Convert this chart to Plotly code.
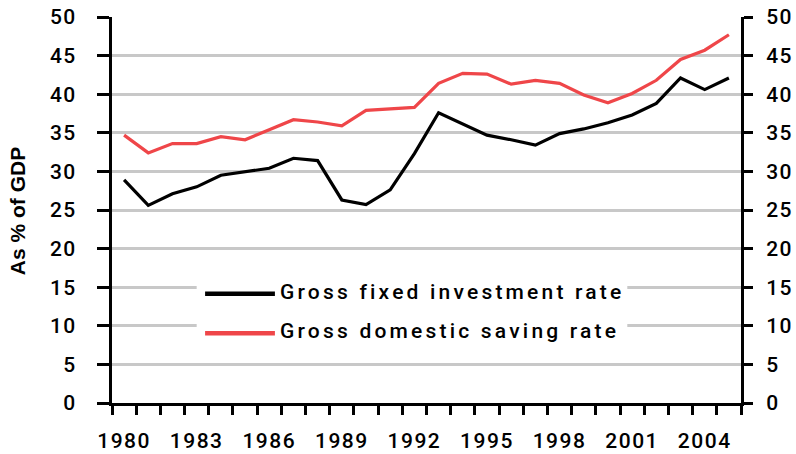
import plotly.graph_objects as go

years = list(range(1980, 2006))
investment = [28.9, 25.6, 27.1, 28.0, 29.5, 30.0, 30.4, 31.7, 31.4, 26.3, 25.7, 27.6, 32.3,
              37.6, 36.1, 34.7, 34.1, 33.4, 34.9, 35.5, 36.3, 37.3, 38.8, 42.1, 40.6, 42.1]
saving = [34.7, 32.4, 33.6, 33.6, 34.5, 34.1, 35.4, 36.7, 36.4, 35.9, 37.9, 38.1, 38.3,
          41.4, 42.7, 42.6, 41.3, 41.8, 41.4, 39.9, 38.9, 40.1, 41.8, 44.5, 45.7, 47.7]
label_years = [1980, 1983, 1986, 1989, 1992, 1995, 1998, 2001, 2004]
y_ticks = [0, 5, 10, 15, 20, 25, 30, 35, 40, 45, 50]
series_names = ["Gross fixed investment rate", "Gross domestic saving rate"]
colors = ["#000000", "#EF4649"]

FONT = "Roboto, Liberation Sans, Arial, sans-serif"


def spaced(t, px):
    return f'<span style="letter-spacing:{px}px">{t}</span>'


fig = go.Figure()
fig.add_trace(go.Scatter(x=years, y=investment, mode="lines", name=series_names[0],
                         line=dict(color=colors[0], width=3.2), showlegend=False))
fig.add_trace(go.Scatter(x=years, y=saving, mode="lines", name=series_names[1], yaxis="y2",
                         line=dict(color=colors[1], width=3.2), showlegend=False))

tickfont = dict(family=FONT, size=21, color="#000000", weight=500)

fig.update_layout(
    width=796, height=454,
    margin=dict(l=112, r=55, t=17, b=51, autoexpand=False),
    paper_bgcolor="white", plot_bgcolor="white",
    showlegend=False,
    xaxis=dict(
        range=[1979.5, 2005.5], tickmode="array", tickvals=label_years,
        ticktext=[spaced(y, 1.5) for y in label_years], ticks="", tickfont=tickfont,
        showgrid=False, zeroline=False, showline=True, linecolor="black", linewidth=3,
        ticklabelstandoff=17, automargin=False,
        minor=dict(tick0=1979.5, dtick=1, ticks="outside", ticklen=9, tickwidth=3,
                   tickcolor="black", showgrid=False),
    ),
    yaxis=dict(
        range=[0, 50], tickmode="array", tickvals=y_ticks,
        ticktext=[spaced(v, 1.5) for v in y_ticks], ticks="outside", ticklen=12,
        tickwidth=3, tickcolor="black", tickfont=tickfont, automargin=False,
        showgrid=True, gridcolor="#C8C8C8", gridwidth=2.6, zeroline=False,
        showline=True, linecolor="black", linewidth=3, ticklabelstandoff=16,
    ),
    yaxis2=dict(
        range=[0, 50], tickmode="array", tickvals=y_ticks,
        ticktext=[spaced(v, 1.5) for v in y_ticks], ticks="outside", ticklen=9,
        tickwidth=3, tickcolor="black", tickfont=tickfont, overlaying="y", side="right",
        showgrid=False, zeroline=False, showline=True, linecolor="black", linewidth=3,
        automargin=False, ticklabelstandoff=9,
    ),
)

# y-axis title
fig.add_annotation(xref="paper", yref="paper", x=-0.150, y=0.496, xanchor="center",
                   yanchor="middle", textangle=-90, showarrow=False, text="As % of GDP",
                   font=dict(family="Liberation Sans, Arial", size=21, color="black", weight="bold"))

# legend box and keys
fig.add_shape(type="rect", xref="x", yref="y", x0=1983.0, x1=2000.8, y0=6.5, y1=18,
              fillcolor="white", line=dict(width=0), layer="between")
for i, (name, c) in enumerate(zip(series_names, colors)):
    yp = [0.283, 0.1806][i]
    fig.add_shape(type="line", xref="paper", yref="paper", x0=0.148, x1=0.259, y0=yp, y1=yp,
                  line=dict(color=c, width=4.5))
    fig.add_annotation(xref="paper", yref="paper", x=0.264, y=yp, xanchor="left", yanchor="middle",
                       text=spaced(name, 3.2), showarrow=False, font=tickfont, yshift=2)

fig.write_html("out.html", config={"displayModeBar": False},
               post_script="document.body.style.margin='0';")
